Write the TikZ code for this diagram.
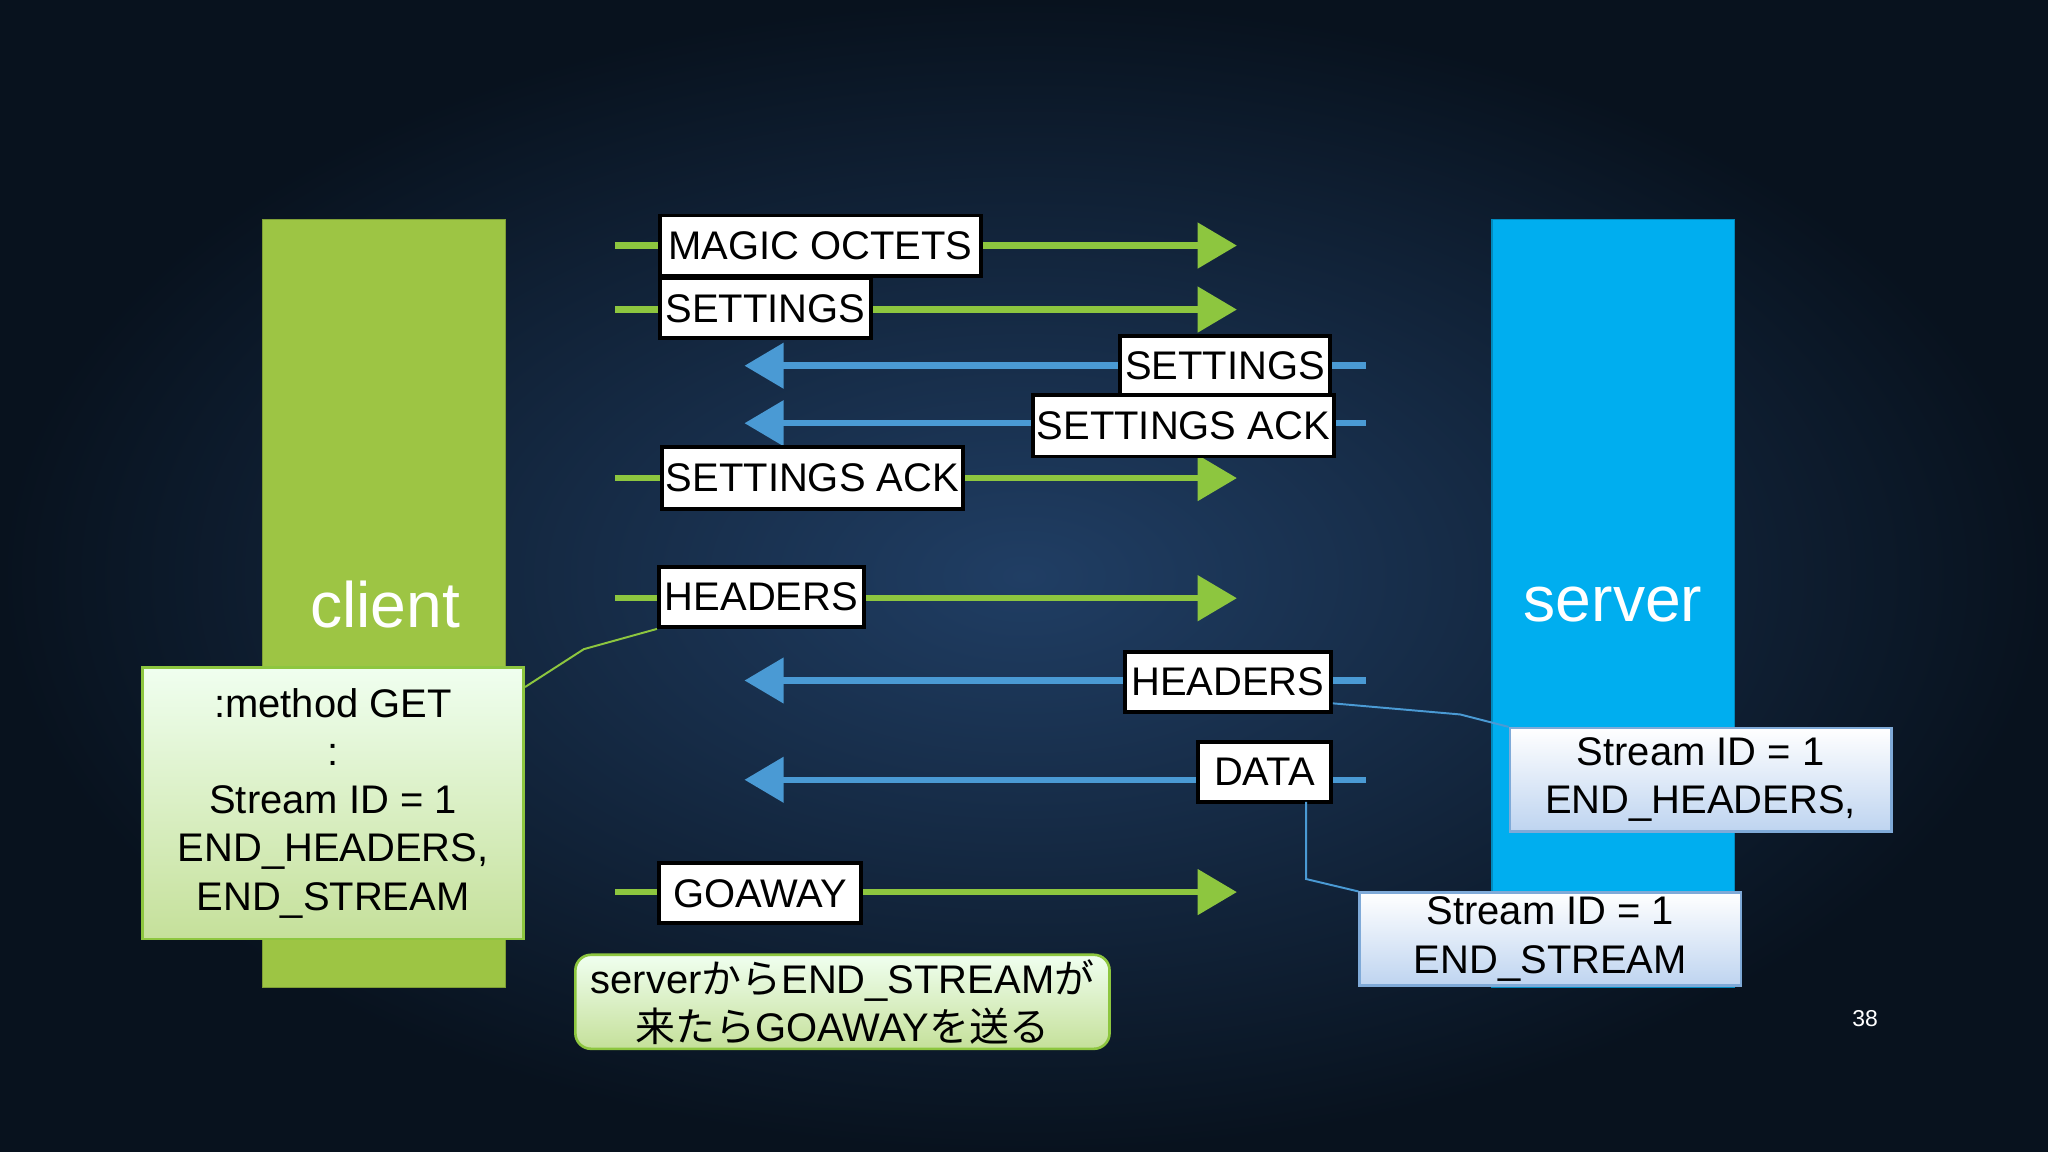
\documentclass[tikz,border=0pt]{standalone}
\usepackage{fontspec}
\setmainfont{Liberation Sans}
\newfontfamily\cjk{Noto Sans CJK JP}
\usetikzlibrary{arrows.meta,shadings}
\definecolor{cg}{HTML}{8DC63F}
\definecolor{cb}{HTML}{4A9AD4}
\definecolor{bar1}{HTML}{9DC544}
\definecolor{bar2}{HTML}{00AEEF}
\tikzset{
  x=0.1mm,y=-0.1mm,
  lbl/.style={draw=black,fill=white,line width=0.3mm,inner sep=0pt,font=\fontsize{8.7}{10}\selectfont,anchor=center},
  garr/.style={draw=cg,line width=0.5mm,-{Triangle[length=3mm,width=3.4mm]}},
  barr/.style={draw=cb,line width=0.5mm,-{Triangle[length=3mm,width=3.4mm]}},
  gnote/.style={draw=cg,line width=0.2mm,top color=green!6!white,bottom color={rgb,255:red,197;green,224;blue,154},align=center,font=\fontsize{8.7}{10.5}\selectfont,inner sep=0pt},
  bnote/.style={draw={rgb,255:red,127;green,170;blue,216},line width=0.2mm,top color=white,bottom color={rgb,255:red,190;green,212;blue,240},align=center,font=\fontsize{8.7}{10.5}\selectfont,inner sep=0pt},
}
\begin{document}
\begin{tikzpicture}
\useasboundingbox (0,0) rectangle (1568,882);
\fill[inner color={rgb,255:red,32;green,62;blue,100},outer color={rgb,255:red,8;green,18;blue,30}] (0,0) rectangle (1568,882);
% bars
\node[draw=bar1!80!black,fill=bar1,minimum width=18.6mm,minimum height=58.8mm,inner sep=0pt] (client) at (294,462) {};
\node[draw=bar2!80!black,fill=bar2,minimum width=18.6mm,minimum height=58.8mm,inner sep=0pt] (server) at (1235,462) {};
\node[text=white,font=\fontsize{14}{16}\selectfont] (clientt) at (295,463) {client};
\node[text=white,font=\fontsize{14}{16}\selectfont] (servert) at (1235,463) {server};
% green arrows
\foreach \n/\y in {a/188,b/237,c/366,d/458,e/683}{
  \coordinate (gs\n) at (471,\y); \coordinate (ge\n) at (947,\y);
  \draw[garr] (gs\n) -- (ge\n);}
\foreach \n/\y in {a/280,b/324,c/521,d/597}{
  \coordinate (bs\n) at (1046,\y); \coordinate (be\n) at (570,\y);
  \draw[barr] (bs\n) -- (be\n);}
\node[lbl,minimum width=24.6mm,minimum height=4.6mm] (l1) at (628,188) {MAGIC OCTETS};
\node[lbl,minimum width=16.2mm,minimum height=4.6mm] (l2) at (586,236) {SETTINGS};
\node[lbl,minimum width=16.1mm,minimum height=4.5mm] (l3) at (938,280) {SETTINGS};
\node[lbl,minimum width=23mm,minimum height=4.7mm] (l4) at (906,326) {SETTINGS ACK};
\node[lbl,minimum width=23mm,minimum height=4.7mm] (l5) at (622,366) {SETTINGS ACK};
\node[lbl,minimum width=15.7mm,minimum height=4.6mm] (l6) at (583,457) {HEADERS};
\node[lbl,minimum width=15.8mm,minimum height=4.6mm] (l7) at (940,522) {HEADERS};
\node[lbl,minimum width=10.2mm,minimum height=4.6mm] (l8) at (968,591) {DATA};
\node[lbl,minimum width=15.5mm,minimum height=4.6mm] (l9) at (582,684) {GOAWAY};
% notes
\node[gnote,minimum width=29.2mm,minimum height=20.8mm] (cn) at (255,615) {:method GET\\:\\Stream ID = 1\\END\_HEADERS,\\END\_STREAM};
\node[bnote,minimum width=29.2mm,minimum height=7.9mm] (sn1) at (1302,597) {Stream ID = 1\\END\_HEADERS,};
\node[bnote,minimum width=29.2mm,minimum height=7.1mm] (sn2) at (1187,719) {Stream ID = 1\\END\_STREAM};
\node[gnote,rounded corners=1.2mm,minimum width=40.9mm,minimum height=7.2mm] (bn) at (645,767) {server{\cjk から}END\_STREAM{\cjk が}\\{\cjk 来たら}GOAWAY{\cjk を送る}};
\node[text=white,font=\fontsize{5}{6}\selectfont] (pg) at (1428,780) {38};
% connectors
\draw[cg,line width=0.15mm] (cn.north east) ++(0,16) -- (447,497) -- (l6.south west);
\draw[cb,line width=0.15mm] (l7.south east) ++(0,-8) -- (1118,547) -- (sn1.north west);
\draw[cb,line width=0.15mm] (1000,614) -- (1000,673) -- (sn2.north west);
\end{tikzpicture}
\end{document}
